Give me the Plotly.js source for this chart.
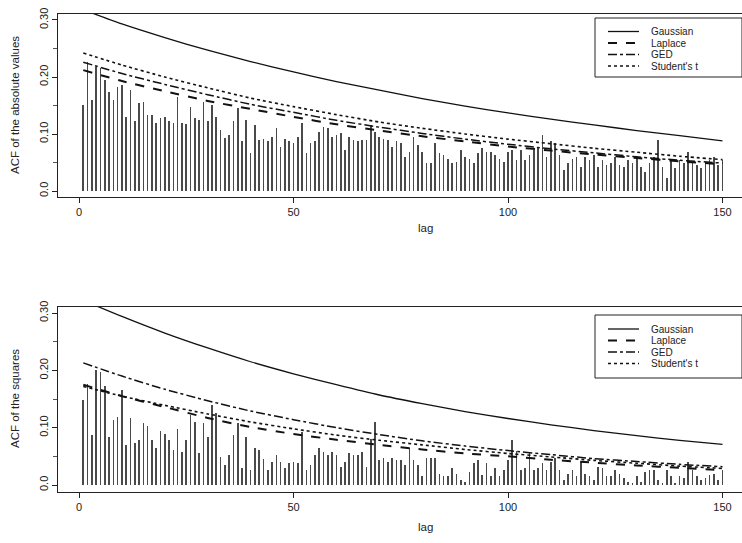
<!DOCTYPE html>
<html>
<head>
<meta charset="utf-8">
<script src="https://cdn.plot.ly/plotly-3.0.1.min.js"></script>
<style>html,body{margin:0;padding:0;background:#fff;}#chart{width:742px;height:543px;}</style>
</head>
<body>
<div id="chart"></div>
<script>
// ---------- data ----------
const lags = Array.from({length: 150}, (_, i) => i + 1);

// sample ACF of the absolute values, lags 1..150
const acfAbs = [
  0.151,0.227,0.160,0.218,0.216,0.195,0.174,0.160,0.183,0.186,
  0.130,0.177,0.122,0.154,0.157,0.133,0.133,0.120,0.128,0.130,
  0.122,0.119,0.165,0.119,0.117,0.148,0.128,0.125,0.157,0.122,
  0.151,0.130,0.107,0.093,0.099,0.122,0.145,0.087,0.125,0.067,
  0.115,0.090,0.092,0.087,0.095,0.110,0.078,0.091,0.087,0.084,
  0.095,0.119,0.066,0.084,0.087,0.104,0.113,0.110,0.095,0.098,
  0.101,0.072,0.095,0.090,0.087,0.090,0.090,0.116,0.104,0.095,
  0.092,0.090,0.078,0.087,0.084,0.060,0.069,0.095,0.081,0.069,
  0.049,0.049,0.084,0.066,0.063,0.057,0.049,0.051,0.072,0.060,
  0.057,0.049,0.066,0.075,0.069,0.069,0.063,0.057,0.051,0.069,
  0.072,0.054,0.072,0.054,0.063,0.072,0.078,0.098,0.060,0.087,
  0.084,0.063,0.037,0.049,0.057,0.060,0.043,0.060,0.054,0.063,
  0.043,0.054,0.046,0.049,0.060,0.046,0.043,0.054,0.049,0.060,
  0.043,0.034,0.049,0.060,0.089,0.043,0.022,0.054,0.040,0.054,
  0.049,0.069,0.049,0.046,0.040,0.049,0.054,0.060,0.046,0.054
];

// sample ACF of the squares, lags 1..150
const acfSq = [
  0.148,0.177,0.087,0.200,0.197,0.172,0.084,0.113,0.119,0.166,
  0.070,0.117,0.073,0.079,0.109,0.103,0.079,0.064,0.095,0.089,
  0.079,0.061,0.097,0.058,0.079,0.122,0.110,0.055,0.108,0.084,
  0.140,0.125,0.049,0.035,0.052,0.087,0.108,0.029,0.084,0.026,
  0.064,0.061,0.045,0.026,0.041,0.052,0.041,0.029,0.038,0.041,
  0.038,0.093,0.026,0.035,0.052,0.064,0.058,0.052,0.058,0.052,
  0.032,0.041,0.055,0.052,0.052,0.058,0.032,0.081,0.110,0.044,
  0.047,0.041,0.047,0.044,0.044,0.035,0.064,0.044,0.035,0.015,
  0.047,0.047,0.047,0.020,0.016,0.016,0.029,0.020,0.009,0.006,
  0.023,0.038,0.044,0.017,0.038,0.015,0.029,0.015,0.026,0.044,
  0.078,0.060,0.026,0.029,0.055,0.026,0.029,0.038,0.026,0.041,
  0.047,0.026,0.009,0.020,0.026,0.015,0.041,0.020,0.015,0.009,
  0.032,0.029,0.015,0.015,0.026,0.020,0.012,0.006,0.004,0.015,
  0.006,0.023,0.026,0.026,0.009,0.003,0.026,0.015,0.003,0.015,
  0.012,0.041,0.026,0.015,0.009,0.012,0.017,0.020,0.009,0.026
];

// theoretical ACF curves, read at these lags
const curveLags = [1,10,20,30,40,50,60,70,80,90,100,110,120,130,140,150];

const absGaussian = [0.318,0.293,0.269,0.247,0.227,0.209,0.192,0.177,0.162,0.149,0.137,0.126,0.116,0.106,0.097,0.088];
const absLaplace  = [0.212,0.193,0.175,0.158,0.144,0.130,0.117,0.106,0.096,0.087,0.078,0.071,0.064,0.058,0.052,0.047];
const absGED      = [0.226,0.206,0.187,0.169,0.152,0.138,0.124,0.112,0.101,0.091,0.082,0.074,0.067,0.060,0.054,0.049];
const absStudent  = [0.242,0.221,0.200,0.181,0.163,0.148,0.134,0.121,0.110,0.100,0.091,0.083,0.075,0.068,0.061,0.055];

const sqGaussian = [0.322,0.294,0.265,0.239,0.215,0.194,0.175,0.157,0.142,0.128,0.116,0.105,0.095,0.086,0.078,0.071];
const sqLaplace  = [0.175,0.155,0.136,0.117,0.101,0.089,0.079,0.070,0.062,0.055,0.050,0.044,0.039,0.034,0.030,0.026];
const sqGED      = [0.213,0.190,0.167,0.147,0.129,0.114,0.100,0.088,0.077,0.068,0.060,0.053,0.046,0.041,0.036,0.032];
const sqStudent  = [0.172,0.155,0.139,0.124,0.110,0.098,0.087,0.078,0.070,0.062,0.055,0.049,0.043,0.038,0.033,0.029];

const seriesNames = ["Gaussian", "Laplace", "GED", "Student's t"];
const xTickVals = [0, 50, 100, 150];
const yTickVals = [0, 0.1, 0.2, 0.3];
const yTickText = ["0.0", "0.10", "0.20", "0.30"];

// ---------- styling ----------
const W = 742, H = 543, L = 58;
const dashes = ["solid", "dash", "dashdot", "dot"];
const widths = [1.3, 2.0, 1.5, 1.6];
const lineColor = "#111";
const FONT = "Liberation Sans, Arial, Helvetica, sans-serif";
const px2x = p => (p - L) / (W - L);
const px2y = p => (H - p) / H;

const traces = [];
function addPanel(bars, curves, xa, ya) {
  traces.push({
    type: "bar", x: lags, y: bars, width: 0.38,
    marker: {color: "#4a4a4a", line: {width: 0}},
    xaxis: xa, yaxis: ya, showlegend: false, hoverinfo: "skip"
  });
  curves.forEach((c, i) => {
    traces.push({
      type: "scatter", mode: "lines", x: curveLags, y: c,
      line: {color: lineColor, width: widths[i], dash: dashes[i], shape: "spline", smoothing: 0.6},
      xaxis: xa, yaxis: ya, showlegend: false, name: seriesNames[i]
    });
  });
}
addPanel(acfAbs, [absGaussian, absLaplace, absGED, absStudent], "x", "y");
addPanel(acfSq, [sqGaussian, sqLaplace, sqGED, sqStudent], "x2", "y2");

const xRange = [(58 - 79) / 4.29, (742 - 79) / 4.29];
const axisCommon = {
  showgrid: false, zeroline: false, showline: true, linecolor: "#222", linewidth: 1,
  ticks: "outside", ticklen: 5, tickcolor: "#222", tickwidth: 1,
  tickfont: {family: FONT, size: 11, color: "#222"}
};
function xAxis(anchor) {
  return Object.assign({}, axisCommon, {
    anchor: anchor, domain: [0, 1], range: xRange, mirror: true,
    tickmode: "array", tickvals: xTickVals, ticktext: xTickVals.map(String)
  });
}
function yAxis(anchor, top, bottom, range) {
  return Object.assign({}, axisCommon, {
    anchor: anchor, domain: [px2y(bottom), px2y(top)], range: range,
    tickmode: "array", tickvals: yTickVals, ticktext: yTickText, tickangle: -90,
    minor: {dtick: 0.05, ticks: "outside", ticklen: 4, tickcolor: "#555", showgrid: false}
  });
}

const shapes = [];
const annotations = [];

function addLegend(boxTop, boxBottom, rowYs) {
  shapes.push({type: "rect", xref: "paper", yref: "paper",
    x0: px2x(595), x1: px2x(742), y0: px2y(boxBottom), y1: px2y(boxTop),
    line: {color: "#222", width: 1}, fillcolor: "rgba(255,255,255,1)", layer: "above"});
  seriesNames.forEach((n, i) => {
    shapes.push({type: "line", xref: "paper", yref: "paper",
      x0: px2x(608), x1: px2x(639), y0: px2y(rowYs[i]), y1: px2y(rowYs[i]),
      line: {color: lineColor, width: widths[i], dash: dashes[i]}, layer: "above"});
    annotations.push({xref: "paper", yref: "paper", x: px2x(650), y: px2y(rowYs[i]),
      xanchor: "left", yanchor: "middle", showarrow: false, text: n,
      font: {family: FONT, size: 10, color: "#222"}, borderpad: 0});
  });
}
addLegend(18, 77, [31.5, 43, 54.5, 66]);
addLegend(315, 378, [329, 340.5, 352, 363.5]);

function addTitles(yTitle, yCenter, lagY) {
  annotations.push({xref: "paper", yref: "paper", x: px2x(15), y: px2y(yCenter),
    xanchor: "center", yanchor: "middle", showarrow: false, textangle: -90, text: yTitle,
    font: {family: FONT, size: 11.5, color: "#222"}});
  annotations.push({xref: "paper", yref: "paper", x: px2x(425), y: px2y(lagY),
    xanchor: "center", yanchor: "middle", showarrow: false, text: "lag",
    font: {family: FONT, size: 11.5, color: "#222"}});
}
addTitles("ACF of the absolute values", 105, 228);
addTitles("ACF of the squares", 399, 527);

const layout = {
  width: W, height: H,
  margin: {l: L, r: 0, t: 0, b: 0, pad: 0},
  paper_bgcolor: "#fff", plot_bgcolor: "#fff",
  showlegend: false, bargap: 0,
  xaxis: xAxis("y"),
  yaxis: yAxis("x", 14, 197, [-0.0105, 0.3105]),
  xaxis2: xAxis("y2"),
  yaxis2: yAxis("x2", 307, 492, [-0.0122, 0.3105]),
  shapes: shapes, annotations: annotations,
  font: {family: FONT, color: "#222"}
};

Plotly.newPlot("chart", traces, layout, {displayModeBar: false, staticPlot: true});
</script>
</body>
</html>
